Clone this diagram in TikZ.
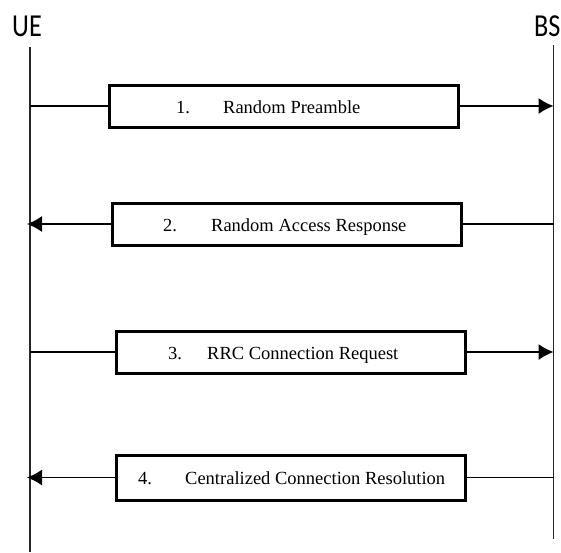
\documentclass[tikz,border=0pt]{standalone}
\usepackage{fontspec}
\setmainfont{Liberation Serif}
\newfontfamily\entityfont{Carlito}
\usetikzlibrary{positioning}
\usetikzlibrary{arrows.meta}
\usetikzlibrary{calc}

\begin{document}
\begin{tikzpicture}[x=1pt, y=-1pt,
		msgbox/.style = {draw, line width=3pt, minimum width=349pt, minimum height=42pt, inner sep=0pt},
		msgtext/.style = {anchor=base west, inner sep=0pt, font=\fontsize{18.5}{22}\selectfont},
		entity/.style = {anchor=base west, inner sep=0pt, xscale=0.82, font=\entityfont\fontsize{32}{36}\selectfont},
		life/.style = {line width=1.3pt, black!85},
		msg/.style = {line width=1.3pt, -{Latex[length=15pt, width=16pt]}}]
		\useasboundingbox (0, 0) rectangle (561, 552);

		% entities and their lifelines
		\node (ue) [entity] at (12, 36) {UE};
		\node (bs) [entity] at (534, 36) {BS};
		\coordinate (ue top) at (30, 47);
		\coordinate (ue bot) at (30, 552);
		\coordinate (bs top) at (553.5, 45);
		\coordinate (bs bot) at (553.5, 539);
		\draw [life] (ue top) -- (ue bot);
		\draw [life] (bs top) -- (bs bot);

		% message boxes
		\node (b1) [msgbox] at (284, 106) {};
		\node (b2) [msgbox] at (286.5, 224) {};
		\node (b3) [msgbox] at (290.5, 352) {};
		\node (b4) [msgbox, minimum height=45pt] at (291, 477.5) {};

		\node (t1) [msgtext] at (176, 113) {\makebox[47pt][l]{1.}Random Preamble};
		\node (t2) [msgtext] at (163, 231) {\makebox[48pt][l]{2.}Random Access Response};
		\node (t3) [msgtext] at (168, 359) {\makebox[39pt][l]{3.}RRC Connection Request};
		\node (t4) [msgtext] at (138, 484.5) {\makebox[47pt][l]{4.}Centralized Connection Resolution};

		% connectors
		\draw [line width=1.3pt] (b1.west -| ue top) -- (b1.west);
		\draw [msg] (b1.east) -- (b1.east -| bs top);
		\draw [line width=1.3pt] (b2.east -| bs top) -- (b2.east);
		\draw [msg, shorten >=-3pt] (b2.west) -- (b2.west -| ue top);
		\draw [line width=1.3pt] (b3.west -| ue top) -- (b3.west);
		\draw [msg] (b3.east) -- (b3.east -| bs top);
		\draw [line width=1.3pt] (b4.east -| bs top) -- (b4.east);
		\draw [msg, shorten >=-3pt] (b4.west) -- (b4.west -| ue top);
	\end{tikzpicture}
\end{document}
